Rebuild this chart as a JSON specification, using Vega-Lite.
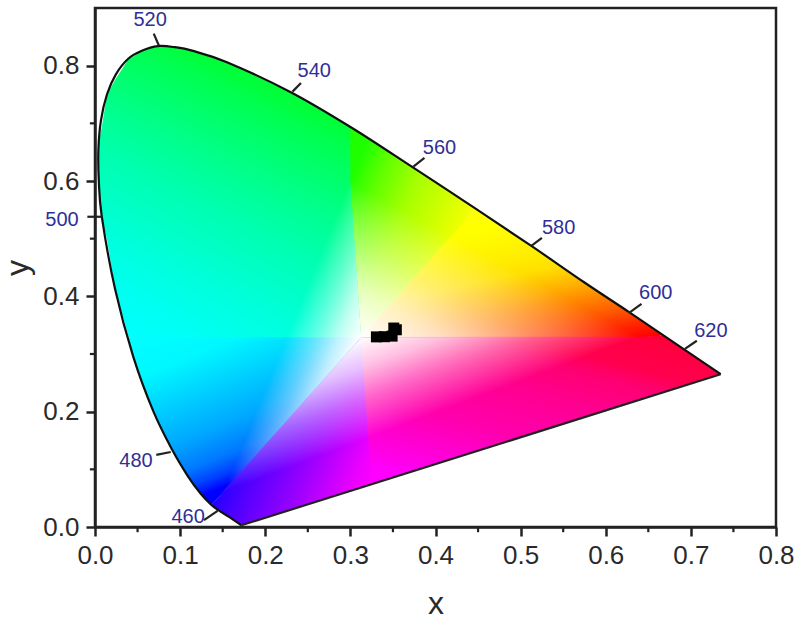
{
  "$schema": "https://vega.github.io/schema/vega-lite/v6.json",
  "description": "CIE 1931 chromaticity diagram with measured colour coordinates",
  "width": 681,
  "height": 519,
  "autosize": "none",
  "padding": {"left": 95, "top": 8, "right": 24, "bottom": 94},
  "background": "white",
  "config": {
    "font": "Liberation Sans",
    "view": {"stroke": "#222222", "strokeWidth": 2.5},
    "axis": {
      "grid": false,
      "domainColor": "#222222",
      "domainWidth": 2.5,
      "tickColor": "#222222",
      "tickWidth": 2.5,
      "tickSize": 9,
      "labelFontSize": 26,
      "labelColor": "#2a2a2a",
      "labelFlush": false,
      "titleFontSize": 32,
      "titleFontWeight": "normal",
      "titleColor": "#2a2a2a",
      "format": ".1f"
    }
  },
  "datasets": {
    "upperLeft": [
      {"x": 0.004, "y": 0.655, "y2": 0.655},
      {"x": 0.0045, "y": 0.67, "y2": 0.6},
      {"x": 0.008, "y": 0.693, "y2": 0.538},
      {"x": 0.014, "y": 0.75, "y2": 0.499},
      {"x": 0.0235, "y": 0.775, "y2": 0.413},
      {"x": 0.0395, "y": 0.812, "y2": 0.33},
      {"x": 0.045, "y": 0.816, "y2": 0.326},
      {"x": 0.055, "y": 0.826, "y2": 0.326},
      {"x": 0.0687, "y": 0.832, "y2": 0.326},
      {"x": 0.091, "y": 0.833, "y2": 0.326},
      {"x": 0.1096, "y": 0.828, "y2": 0.326},
      {"x": 0.124, "y": 0.821, "y2": 0.326},
      {"x": 0.1355, "y": 0.815, "y2": 0.326},
      {"x": 0.155, "y": 0.806, "y2": 0.326},
      {"x": 0.23, "y": 0.754, "y2": 0.326},
      {"x": 0.3, "y": 0.694, "y2": 0.326},
      {"x": 0.3015, "y": 0.692, "y2": 0.326},
      {"x": 0.3016, "y": 0.6, "y2": 0.326},
      {"x": 0.3147, "y": 0.329, "y2": 0.326}
    ],
    "lowerLeft": [
      {"x": 0.0395, "y": 0.329, "y2": 0.329},
      {"x": 0.045, "y": 0.329, "y2": 0.295},
      {"x": 0.055, "y": 0.329, "y2": 0.255},
      {"x": 0.0687, "y": 0.329, "y2": 0.2},
      {"x": 0.091, "y": 0.329, "y2": 0.133},
      {"x": 0.1096, "y": 0.329, "y2": 0.087},
      {"x": 0.124, "y": 0.329, "y2": 0.058},
      {"x": 0.1355, "y": 0.329, "y2": 0.04},
      {"x": 0.137, "y": 0.329, "y2": 0.038},
      {"x": 0.23, "y": 0.329, "y2": 0.188},
      {"x": 0.3147, "y": 0.329, "y2": 0.325}
    ],
    "greenWedge": [
      {"x": 0.3, "y": 0.694, "y2": 0.6},
      {"x": 0.3127, "y": 0.682, "y2": 0.329},
      {"x": 0.373, "y": 0.624, "y2": 0.424},
      {"x": 0.419, "y": 0.582, "y2": 0.5},
      {"x": 0.447, "y": 0.552, "y2": 0.552}
    ],
    "orangeWedge": [
      {"x": 0.3127, "y": 0.329, "y2": 0.329},
      {"x": 0.373, "y": 0.4288, "y2": 0.326},
      {"x": 0.419, "y": 0.505, "y2": 0.326},
      {"x": 0.447, "y": 0.552, "y2": 0.326},
      {"x": 0.513, "y": 0.487, "y2": 0.326},
      {"x": 0.575, "y": 0.424, "y2": 0.326},
      {"x": 0.627, "y": 0.373, "y2": 0.327},
      {"x": 0.64, "y": 0.36, "y2": 0.328},
      {"x": 0.668, "y": 0.332, "y2": 0.332}
    ],
    "violetWedge": [
      {"x": 0.137, "y": 0.038, "y2": 0.038},
      {"x": 0.144, "y": 0.05, "y2": 0.03},
      {"x": 0.15, "y": 0.06, "y2": 0.024},
      {"x": 0.157, "y": 0.0716, "y2": 0.018},
      {"x": 0.172, "y": 0.0964, "y2": 0.003},
      {"x": 0.3127, "y": 0.329, "y2": 0.0685},
      {"x": 0.3285, "y": 0.08, "y2": 0.0755}
    ],
    "pinkWedge": [
      {"x": 0.3127, "y": 0.329, "y2": 0.329},
      {"x": 0.325, "y": 0.33, "y2": 0.074},
      {"x": 0.64, "y": 0.33, "y2": 0.2208},
      {"x": 0.668, "y": 0.332, "y2": 0.2338},
      {"x": 0.692, "y": 0.308, "y2": 0.245},
      {"x": 0.708, "y": 0.292, "y2": 0.2525},
      {"x": 0.735, "y": 0.265, "y2": 0.265}
    ],
    "whiteTop": [
      {"x": 0.3, "y": 0.6, "y2": 0.6},
      {"x": 0.3127, "y": 0.5899, "y2": 0.329},
      {"x": 0.64, "y": 0.33, "y2": 0.33}
    ],
    "whiteBottom": [
      {"x": 0.15, "y": 0.06, "y2": 0.06},
      {"x": 0.3127, "y": 0.329, "y2": 0.1497},
      {"x": 0.64, "y": 0.33, "y2": 0.33}
    ],
    "whiteLeft": [
      {"x": 0.15, "y": 0.06, "y2": 0.06},
      {"x": 0.3, "y": 0.6, "y2": 0.308},
      {"x": 0.3127, "y": 0.329, "y2": 0.329}
    ],
    "locus": [
      {"i": 1, "x": 0.172, "y": 0.003},
      {"i": 2, "x": 0.157, "y": 0.018},
      {"i": 3, "x": 0.144, "y": 0.03},
      {"i": 4, "x": 0.1355, "y": 0.04},
      {"i": 5, "x": 0.124, "y": 0.058},
      {"i": 6, "x": 0.1096, "y": 0.087},
      {"i": 7, "x": 0.091, "y": 0.133},
      {"i": 8, "x": 0.0687, "y": 0.2},
      {"i": 9, "x": 0.045, "y": 0.295},
      {"i": 10, "x": 0.0235, "y": 0.413},
      {"i": 11, "x": 0.008, "y": 0.538},
      {"i": 12, "x": 0.0045, "y": 0.6},
      {"i": 13, "x": 0.004, "y": 0.655},
      {"i": 14, "x": 0.007, "y": 0.705},
      {"i": 15, "x": 0.014, "y": 0.75},
      {"i": 16, "x": 0.0245, "y": 0.785},
      {"i": 17, "x": 0.039, "y": 0.812},
      {"i": 18, "x": 0.055, "y": 0.826},
      {"i": 19, "x": 0.074, "y": 0.834},
      {"i": 20, "x": 0.094, "y": 0.832},
      {"i": 21, "x": 0.114, "y": 0.826},
      {"i": 22, "x": 0.155, "y": 0.806},
      {"i": 23, "x": 0.23, "y": 0.754},
      {"i": 24, "x": 0.302, "y": 0.692},
      {"i": 25, "x": 0.373, "y": 0.624},
      {"i": 26, "x": 0.444, "y": 0.555},
      {"i": 27, "x": 0.513, "y": 0.487},
      {"i": 28, "x": 0.575, "y": 0.424},
      {"i": 29, "x": 0.627, "y": 0.373},
      {"i": 30, "x": 0.666, "y": 0.334},
      {"i": 31, "x": 0.692, "y": 0.308},
      {"i": 32, "x": 0.708, "y": 0.292},
      {"i": 33, "x": 0.735, "y": 0.265}
    ],
    "ticks": [
      {"x": 0.172, "y": 0.003, "x2": 0.735, "y2": 0.265},
      {"x": 0.069, "y": 0.8555, "x2": 0.075, "y2": 0.835},
      {"x": 0.242, "y": 0.77, "x2": 0.232, "y2": 0.755},
      {"x": 0.387, "y": 0.64, "x2": 0.374, "y2": 0.625},
      {"x": 0.525, "y": 0.5015, "x2": 0.513, "y2": 0.488},
      {"x": 0.642, "y": 0.387, "x2": 0.627, "y2": 0.371},
      {"x": 0.707, "y": 0.323, "x2": 0.693, "y2": 0.309},
      {"x": -0.009, "y": 0.538, "x2": 0.008, "y2": 0.538},
      {"x": 0.072, "y": 0.125, "x2": 0.089, "y2": 0.13},
      {"x": 0.128, "y": 0.012, "x2": 0.144, "y2": 0.028},
      {"x": 0.05, "y": 0, "x2": 0.05, "y2": -0.009},
      {"x": 0.15, "y": 0, "x2": 0.15, "y2": -0.009},
      {"x": 0.25, "y": 0, "x2": 0.25, "y2": -0.009},
      {"x": 0.35, "y": 0, "x2": 0.35, "y2": -0.009},
      {"x": 0.45, "y": 0, "x2": 0.45, "y2": -0.009},
      {"x": 0.55, "y": 0, "x2": 0.55, "y2": -0.009},
      {"x": 0.65, "y": 0, "x2": 0.65, "y2": -0.009},
      {"x": 0.75, "y": 0, "x2": 0.75, "y2": -0.009},
      {"x": 0, "y": 0.1, "x2": -0.006, "y2": 0.1},
      {"x": 0, "y": 0.3, "x2": -0.006, "y2": 0.3},
      {"x": 0, "y": 0.5, "x2": -0.006, "y2": 0.5},
      {"x": 0, "y": 0.7, "x2": -0.006, "y2": 0.7}
    ],
    "wavelengths": [
      {"x": 0.0647, "y": 0.88, "nm": "520"},
      {"x": 0.2576, "y": 0.791, "nm": "540"},
      {"x": 0.4047, "y": 0.6577, "nm": "560"},
      {"x": 0.5447, "y": 0.5189, "nm": "580"},
      {"x": 0.6588, "y": 0.4061, "nm": "600"},
      {"x": 0.7235, "y": 0.3401, "nm": "620"},
      {"x": -0.0388, "y": 0.5328, "nm": "500"},
      {"x": 0.0482, "y": 0.1145, "nm": "480"},
      {"x": 0.1094, "y": 0.0174, "nm": "460"}
    ],
    "samples": [
      {"x": 0.3306, "y": 0.3297},
      {"x": 0.34, "y": 0.33},
      {"x": 0.349, "y": 0.331},
      {"x": 0.351, "y": 0.345},
      {"x": 0.354, "y": 0.342}
    ]
  },
  "encoding": {
    "x": {
      "field": "x",
      "type": "quantitative",
      "scale": {"domain": [0, 0.8], "nice": false, "zero": false},
      "title": "x",
      "axis": {"values": [0, 0.1, 0.2, 0.3, 0.4, 0.5, 0.6, 0.7, 0.8], "labelPadding": 6, "titlePadding": 20}
    },
    "y": {
      "field": "y",
      "type": "quantitative",
      "scale": {"domain": [0, 0.9], "nice": false, "zero": false},
      "title": "y",
      "axis": {"values": [0, 0.2, 0.4, 0.6, 0.8], "labelPadding": 7, "titlePadding": 8}
    }
  },
  "layer": [
    {
      "data": {"name": "upperLeft"},
      "mark": {
        "type": "area",
        "opacity": 1,
        "color": {
          "gradient": "linear", "x1": 0.904, "y1": 0.261, "x2": 0.496, "y2": 1.174,
          "stops": [
            {"offset": 0, "color": "#00ff38"},
            {"offset": 0.07, "color": "#00ff50"},
            {"offset": 0.315, "color": "#00ff90"},
            {"offset": 0.46, "color": "#00ffb0"},
            {"offset": 0.73, "color": "#00ffe0"},
            {"offset": 0.88, "color": "#00fff4"},
            {"offset": 1, "color": "#00ffff"}
          ]
        }
      },
      "encoding": {"y2": {"field": "y2"}}
    },
    {
      "data": {"name": "lowerLeft"},
      "mark": {
        "type": "area",
        "opacity": 1,
        "color": {
          "gradient": "linear", "x1": 0, "y1": 0, "x2": 0.483, "y2": 0.847,
          "stops": [
            {"offset": 0, "color": "#00ffff"},
            {"offset": 0.235, "color": "#00f8ff"},
            {"offset": 0.45, "color": "#00d0ff"},
            {"offset": 0.67, "color": "#00a8ff"},
            {"offset": 0.836, "color": "#0078ff"},
            {"offset": 0.93, "color": "#0040ff"},
            {"offset": 1, "color": "#0000ff"}
          ]
        }
      },
      "encoding": {"y2": {"field": "y2"}}
    },
    {
      "data": {"name": "greenWedge"},
      "mark": {
        "type": "area",
        "opacity": 1,
        "color": {
          "gradient": "linear", "x1": 0, "y1": 0, "x2": 0.88, "y2": 0.66,
          "stops": [
            {"offset": 0.14, "color": "#20ff00"},
            {"offset": 0.3, "color": "#60ff00"},
            {"offset": 0.53, "color": "#a8ff00"},
            {"offset": 0.8, "color": "#dcff00"},
            {"offset": 0.97, "color": "#ffff00"}
          ]
        }
      },
      "encoding": {"y2": {"field": "y2"}}
    },
    {
      "data": {"name": "orangeWedge"},
      "mark": {
        "type": "area",
        "opacity": 1,
        "color": {
          "gradient": "linear", "x1": 0.082, "y1": 0.164, "x2": 0.597, "y2": 1.194,
          "stops": [
            {"offset": 0.123, "color": "#ffff00"},
            {"offset": 0.302, "color": "#fff000"},
            {"offset": 0.432, "color": "#ffe000"},
            {"offset": 0.568, "color": "#ffb000"},
            {"offset": 0.759, "color": "#ff6000"},
            {"offset": 0.895, "color": "#ff2000"},
            {"offset": 0.975, "color": "#ff0000"},
            {"offset": 1, "color": "#ff0010"}
          ]
        }
      },
      "encoding": {"y2": {"field": "y2"}}
    },
    {
      "data": {"name": "violetWedge"},
      "mark": {
        "type": "area",
        "opacity": 1,
        "color": {
          "gradient": "linear", "x1": 0.341, "y1": 0.161, "x2": 1.105, "y2": 0.523,
          "stops": [
            {"offset": 0, "color": "#2000ff"},
            {"offset": 0.184, "color": "#5000ff"},
            {"offset": 0.525, "color": "#9800ff"},
            {"offset": 0.745, "color": "#cc00ff"},
            {"offset": 0.887, "color": "#ee00ff"},
            {"offset": 1, "color": "#ff00ff"}
          ]
        }
      },
      "encoding": {"y2": {"field": "y2"}}
    },
    {
      "data": {"name": "pinkWedge"},
      "mark": {
        "type": "area",
        "opacity": 1,
        "color": {
          "gradient": "linear", "x1": 0.136, "y1": 1.063, "x2": 0.829, "y2": -0.009,
          "stops": [
            {"offset": 0.064, "color": "#ff00ff"},
            {"offset": 0.142, "color": "#ff00e8"},
            {"offset": 0.365, "color": "#ff00b0"},
            {"offset": 0.594, "color": "#ff0090"},
            {"offset": 0.749, "color": "#ff0070"},
            {"offset": 0.817, "color": "#ff0050"},
            {"offset": 0.954, "color": "#ff0040"},
            {"offset": 1, "color": "#ff0030"}
          ]
        }
      },
      "encoding": {"y2": {"field": "y2"}}
    },
    {
      "data": {"name": "whiteTop"},
      "mark": {
        "type": "area",
        "opacity": 1,
        "color": {
          "gradient": "linear", "x1": 0.037, "y1": 1, "x2": 0.5186, "y2": 0.5165,
          "stops": [
            {"offset": 0, "color": "rgba(255,255,255,1)"},
            {"offset": 0.3, "color": "rgba(255,255,255,0.75)"},
            {"offset": 0.6, "color": "rgba(255,255,255,0.4)"},
            {"offset": 1, "color": "rgba(255,255,255,0)"}
          ]
        }
      },
      "encoding": {"y2": {"field": "y2"}}
    },
    {
      "data": {"name": "whiteBottom"},
      "mark": {
        "type": "area",
        "opacity": 1,
        "color": {
          "gradient": "linear", "x1": 0.332, "y1": 0, "x2": 0.666, "y2": 0.334,
          "stops": [
            {"offset": 0, "color": "rgba(255,255,255,1)"},
            {"offset": 0.3, "color": "rgba(255,255,255,0.75)"},
            {"offset": 0.6, "color": "rgba(255,255,255,0.4)"},
            {"offset": 1, "color": "rgba(255,255,255,0)"}
          ]
        }
      },
      "encoding": {"y2": {"field": "y2"}}
    },
    {
      "data": {"name": "whiteLeft"},
      "mark": {
        "type": "area",
        "opacity": 1,
        "color": {
          "gradient": "linear", "x1": 1, "y1": 0.5, "x2": 0.7086, "y2": 0.2314,
          "stops": [
            {"offset": 0, "color": "rgba(255,255,255,1)"},
            {"offset": 0.3, "color": "rgba(255,255,255,0.75)"},
            {"offset": 0.6, "color": "rgba(255,255,255,0.4)"},
            {"offset": 1, "color": "rgba(255,255,255,0)"}
          ]
        }
      },
      "encoding": {"y2": {"field": "y2"}}
    },
    {
      "data": {"name": "locus"},
      "mark": {"type": "line", "color": "#111111", "strokeWidth": 2.2, "interpolate": "cardinal"},
      "encoding": {"order": {"field": "i", "type": "quantitative"}}
    },
    {
      "data": {"name": "ticks"},
      "mark": {"type": "rule", "color": "#222222", "strokeWidth": 2.2},
      "encoding": {"x2": {"field": "x2"}, "y2": {"field": "y2"}}
    },
    {
      "data": {"name": "wavelengths"},
      "mark": {"type": "text", "fontSize": 20, "color": "#2f2f96"},
      "encoding": {"text": {"field": "nm", "type": "nominal"}}
    },
    {
      "data": {"name": "samples"},
      "mark": {"type": "point", "shape": "square", "filled": true, "size": 121, "color": "black", "opacity": 1}
    }
  ]
}
